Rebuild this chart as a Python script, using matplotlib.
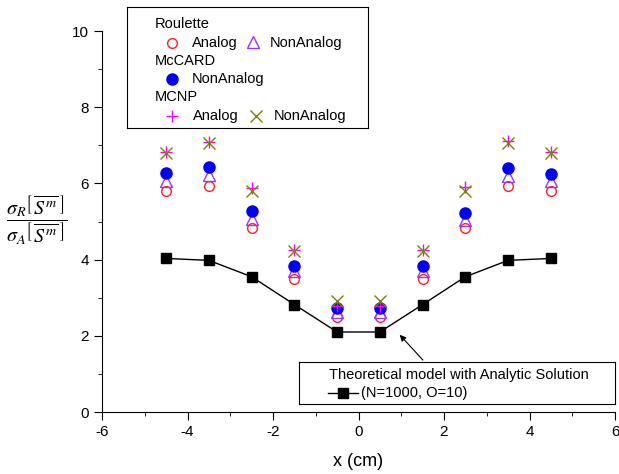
import numpy as np
import matplotlib
matplotlib.use('Agg')
import matplotlib.pyplot as plt

plt.rcParams['font.family'] = ['Liberation Sans', 'DejaVu Sans']
plt.rcParams['mathtext.fontset'] = 'stix'
plt.rcParams['axes.unicode_minus'] = False

# data
x = [-4.5, -3.5, -2.5, -1.5, -0.5, 0.5, 1.5, 2.5, 3.5, 4.5]
theory = [4.03, 3.98, 3.55, 2.82, 2.10, 2.10, 2.82, 3.55, 3.98, 4.03]
roulette_analog = [5.80, 5.93, 4.84, 3.50, 2.50, 2.50, 3.50, 4.84, 5.92, 5.80]
roulette_nonanalog = [6.05, 6.22, 5.07, 3.70, 2.62, 2.62, 3.70, 5.05, 6.20, 6.05]
mccard_nonanalog = [6.27, 6.43, 5.28, 3.82, 2.73, 2.73, 3.82, 5.22, 6.40, 6.25]
mcnp_analog = [6.82, 7.08, 5.88, 4.25, 2.78, 2.78, 4.25, 5.90, 7.10, 6.82]
mcnp_nonanalog = [6.80, 7.06, 5.80, 4.23, 2.92, 2.92, 4.23, 5.80, 7.06, 6.80]

W, H = 619, 474
fig = plt.figure(figsize=(W / 100, H / 100), dpi=100)
ax = fig.add_axes([102 / W, 1 - 412 / H, (615 - 102) / W, (412 - 31) / H])

ms = 7
ax.plot(x, theory, '-', color='black', lw=1, marker='s', ms=6.5, mfc='black', mec='black', zorder=3)
ax.plot(x, roulette_analog, 'o', ls='none', ms=ms, mfc='none', mec='#ff2020', mew=1)
ax.plot(x, roulette_nonanalog, '^', ls='none', ms=ms + 1, mfc='none', mec='#9933ff', mew=1)
ax.plot(x, mccard_nonanalog, 'o', ls='none', ms=ms + 1, mfc='#0000ff', mec='#0000ff')
ax.plot(x, mcnp_analog, '+', ls='none', ms=ms + 2, mec='#ff00ff', mew=1)
ax.plot(x, mcnp_nonanalog, 'x', ls='none', ms=ms + 1, mec='#808000', mew=1)

ax.set_xlim(-6, 6)
ax.set_ylim(0, 10)
ax.set_xticks(np.arange(-6, 7, 2))
ax.set_xticks(np.arange(-5, 6, 2), minor=True)
ax.set_yticks(np.arange(0, 11, 2))
ax.set_yticks(np.arange(1, 10, 2), minor=True)
ax.spines['top'].set_visible(False)
ax.spines['right'].set_visible(False)
ax.tick_params(which='major', direction='out', length=6, labelsize=11)
ax.tick_params(which='minor', direction='out', length=3)
ax.set_xlabel('x (cm)', fontsize=13, labelpad=10)

fig.text(37 / W, 1 - 220 / H,
         r'$\dfrac{\sigma_R\left[\,\overline{S^m}\,\right]}{\sigma_A\left[\,\overline{S^m}\,\right]}$',
         fontsize=14.5, ha='center', va='center')

ax.annotate('', xy=(0.92, 2.08), xytext=(1.55, 1.31),
            arrowprops=dict(arrowstyle='-|>', color='black', lw=0.8, mutation_scale=9))

# top legend box (pixel coords)
lg = fig.add_axes([127 / W, 1 - 128 / H, (368 - 127) / W, (128 - 7) / H])
lg.set_xlim(127, 368)
lg.set_ylim(128, 7)
lg.set_xticks([])
lg.set_yticks([])
fs = 10.5
lg.text(155, 24, 'Roulette', fontsize=fs, va='center')
lg.plot([172], [43], 'o', ms=ms, mfc='none', mec='#ff2020')
lg.text(192, 43, 'Analog', fontsize=fs, va='center')
lg.plot([253], [42], '^', ms=ms + 1, mfc='none', mec='#9933ff')
lg.text(270, 43, 'NonAnalog', fontsize=fs, va='center')
lg.text(155, 61, 'McCARD', fontsize=fs, va='center')
lg.plot([172], [79], 'o', ms=ms + 1, mfc='#0000ff', mec='#0000ff')
lg.text(192, 79, 'NonAnalog', fontsize=fs, va='center')
lg.text(155, 97, 'MCNP', fontsize=fs, va='center')
lg.plot([172], [116], '+', ms=ms + 2, mec='#ff00ff')
lg.text(193, 116, 'Analog', fontsize=fs, va='center')
lg.plot([256], [116], 'x', ms=ms + 1, mec='#808000')
lg.text(274, 116, 'NonAnalog', fontsize=fs, va='center')

# bottom legend box
lb = fig.add_axes([299 / W, 1 - 404 / H, (615 - 299) / W, (404 - 362) / H])
lb.set_xlim(299, 615)
lb.set_ylim(404, 362)
lb.set_xticks([])
lb.set_yticks([])
lb.text(329, 375, 'Theoretical model with Analytic Solution', fontsize=fs, va='center')
lb.plot([328, 358], [393, 393], '-', color='black', lw=1)
lb.plot([343], [393], 's', ms=6.5, color='black')
lb.text(361, 393, '(N=1000, O=10)', fontsize=fs, va='center')

fig.savefig('out.png', dpi=100)
